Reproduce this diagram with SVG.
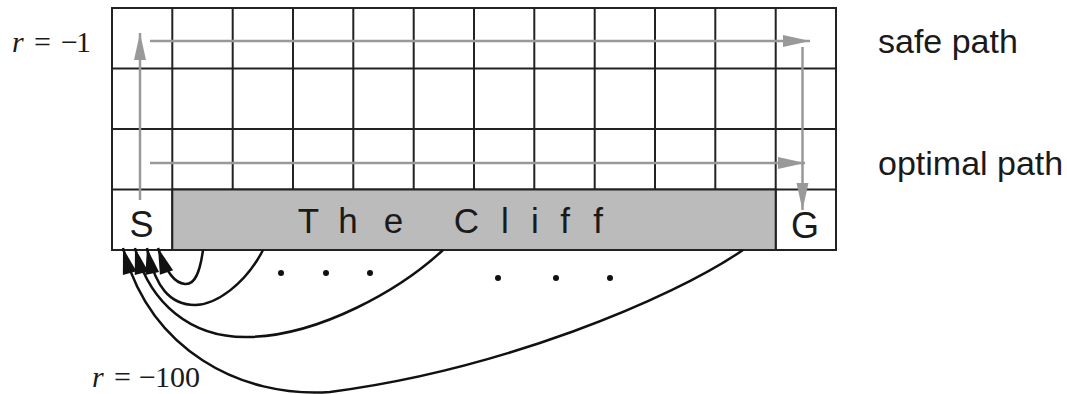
<svg xmlns="http://www.w3.org/2000/svg" width="1067" height="394" viewBox="0 0 1067 394">
<style>
.grid{fill:none;stroke:#222;stroke-width:2}
.sans{font-family:"Liberation Sans",Arial,sans-serif;fill:#1a1a1a}
.serif{font-family:"Liberation Serif","Times New Roman",serif;fill:#1a1a1a;font-size:30px}
.gray{fill:none;stroke:#999;stroke-width:2.5}
.blk{fill:none;stroke:#111;stroke-width:2.5}
.dot{fill:#111}
</style>
<defs>
<marker id="gh" markerUnits="userSpaceOnUse" markerWidth="30" markerHeight="16" viewBox="-28 -8 30 16" refX="0" refY="0" orient="auto">
<path d="M0,0 L-27,-6 L-27,6 Z" fill="#999"/>
</marker>
<marker id="bh" markerUnits="userSpaceOnUse" markerWidth="30" markerHeight="18" viewBox="-28 -9 30 18" refX="0" refY="0" orient="auto">
<path d="M0,0 L-26,-7 L-26,7 Z" fill="#111"/>
</marker>
</defs>
<rect width="1067" height="394" fill="#fff"/>
<g id="grid">
<rect class="grid" x="112" y="8" width="724" height="242"/>
<path class="grid" d="M112,68.5H836M112,129H836M112,189.5H836M172.3,8V250M232.7,8V189.5M293,8V189.5M353.3,8V189.5M413.7,8V189.5M474,8V189.5M534.3,8V189.5M594.7,8V189.5M655,8V189.5M715.3,8V189.5M775.7,8V250"/>
</g>
<g id="cliff">
<rect x="172.3" y="189.5" width="603.4" height="60.5" fill="#bbb" stroke="#222" stroke-width="2"/>
<text class="sans" font-size="35" y="233" text-anchor="middle" x="308.5 348 393.5 466.5 505 535 565 598">TheCliff</text>
</g>
<g id="start"><text class="sans" font-size="36" x="141.5" y="237" text-anchor="middle">S</text></g>
<g id="goal"><text class="sans" font-size="36" x="805" y="238" text-anchor="middle">G</text></g>
<g id="labels">
<text class="sans" font-size="34" x="878" y="53">safe path</text>
<text class="sans" font-size="34" x="878" y="175">optimal path</text>
<text class="serif" y="52"><tspan x="12" font-style="italic">r</tspan><tspan x="34">=</tspan><tspan x="61">−</tspan><tspan x="76">1</tspan></text>
<text class="serif" y="387"><tspan x="92" font-style="italic">r</tspan><tspan x="114">=</tspan><tspan x="139">−</tspan><tspan x="155">100</tspan></text>
</g>
<g id="dots">
<circle class="dot" cx="281" cy="273" r="3"/><circle class="dot" cx="326" cy="273" r="3"/><circle class="dot" cx="370" cy="273" r="3"/>
<circle class="dot" cx="498" cy="278" r="3"/><circle class="dot" cx="556" cy="278" r="3"/><circle class="dot" cx="610" cy="278" r="3"/>
</g>
<g id="connectors">
<path class="gray" d="M140,200V33" marker-end="url(#gh)"/>
<path class="gray" d="M150,41H810" marker-end="url(#gh)"/>
<path class="gray" d="M802.5,47V210" marker-end="url(#gh)"/>
<path class="gray" d="M150,163H805" marker-end="url(#gh)"/>
<path class="blk" d="M203,250 C200,272 195,285 185,284 C175,283 167,274 158,248" marker-end="url(#bh)"/>
<path class="blk" d="M263,250 C245,285 215,305 195,305 C170,305 155,287 147,248" marker-end="url(#bh)"/>
<path class="blk" d="M443,250 C400,290 320,335 250,337 C190,339 149,302 135,248" marker-end="url(#bh)"/>
<path class="blk" d="M743,250 C670,300 500,370 330,392 C240,398 150,350 123,248" marker-end="url(#bh)"/>
</g>
</svg>
